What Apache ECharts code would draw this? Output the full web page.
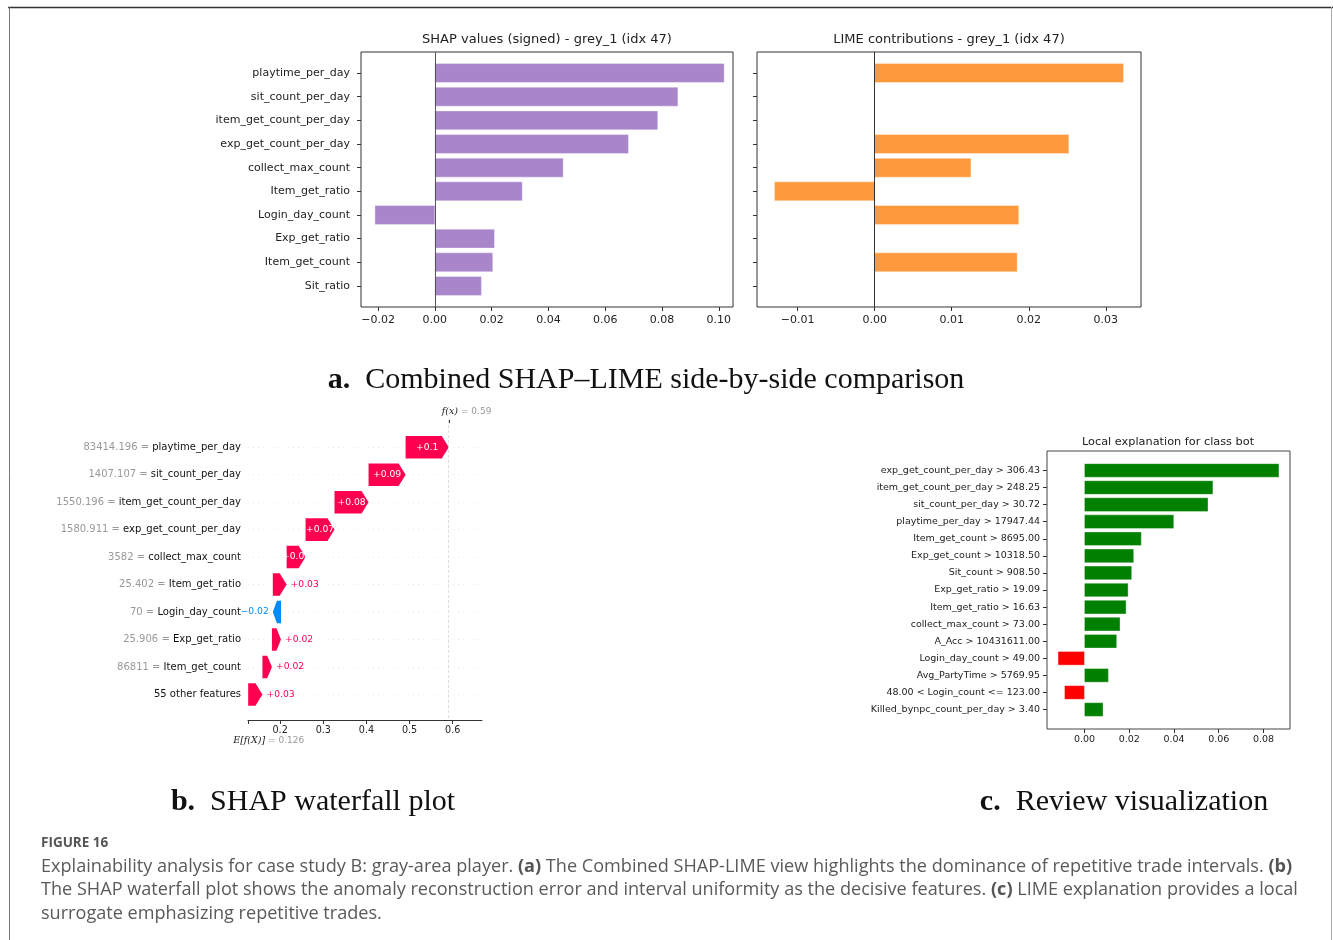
<!DOCTYPE html>
<html><head><meta charset="utf-8">
<script src="https://cdn.jsdelivr.net/npm/echarts@6/dist/echarts.min.js"></script>
<style>html,body{margin:0;padding:0;background:#fff}#c{width:1333px;height:940px}</style>
</head><body><div id="c"></div>
<script>
// ---------- Panel a data ----------
const shapFeatures = ['playtime_per_day','sit_count_per_day','item_get_count_per_day','exp_get_count_per_day','collect_max_count','Item_get_ratio','Login_day_count','Exp_get_ratio','Item_get_count','Sit_ratio'];
const shapValues = [0.1019,0.0856,0.0785,0.0682,0.0452,0.0308,-0.0211,0.0210,0.0204,0.0164];
const limeValues = [0.0323,null,null,0.0252,0.0125,-0.0130,0.0187,null,0.0185,null];
const shapTicks = [-0.02,0,0.02,0.04,0.06,0.08,0.10];
const limeTicks = [-0.01,0,0.01,0.02,0.03];
// ---------- Panel b data ----------
const wfFeatures = ['playtime_per_day','sit_count_per_day','item_get_count_per_day','exp_get_count_per_day','collect_max_count','Item_get_ratio','Login_day_count','Exp_get_ratio','Item_get_count','55 other features'];
const wfFeatureValues = ['83414.196','1407.107','1550.196','1580.911','3582','25.402','70','25.906','86811',''];
const wfValues = [0.100,0.086,0.079,0.067,0.044,0.032,-0.019,0.021,0.022,0.033];
const wfBase = 0.126;
const wfTicks = [0.2,0.3,0.4,0.5,0.6];
// ---------- Panel c data ----------
const cFeatures = ['exp_get_count_per_day > 306.43','item_get_count_per_day > 248.25','sit_count_per_day > 30.72','playtime_per_day > 17947.44','Item_get_count > 8695.00','Exp_get_count > 10318.50','Sit_count > 908.50','Exp_get_ratio > 19.09','Item_get_ratio > 16.63','collect_max_count > 73.00','A_Acc > 10431611.00','Login_day_count > 49.00','Avg_PartyTime > 5769.95','48.00 < Login_count <= 123.00','Killed_bynpc_count_per_day > 3.40'];
const cValues = [0.0869,0.0574,0.0552,0.0399,0.0254,0.0220,0.0211,0.0195,0.0186,0.0159,0.0144,-0.0118,0.0107,-0.0089,0.0083];
const cTicks = [0,0.02,0.04,0.06,0.08];

const FONT = 'DejaVu Sans';
const fmt2 = v => (v < 0 ? '\u2212' : '') + Math.abs(v).toFixed(2);
const idx = arr => arr.map((_, i) => i);
function lims(vals){ const v = vals.filter(x => x != null).concat([0]); const lo = Math.min(...v), hi = Math.max(...v); const m = (hi-lo)*0.05; return [lo-m, hi+m]; }
const shapLim = [-0.026, 0.105], limeLim = lims(limeValues), cLim = lims(cValues);

function barRenderer(frac, colorFn){
  return function(params, api){
    const v = api.value(0), i = api.value(1);
    const p0 = api.coord([0, i]), p1 = api.coord([v, i]);
    const h = api.size([0, frac])[1];
    return {type:'rect', shape:{x:Math.min(p0[0],p1[0]), y:p0[1]-h/2, width:Math.abs(p1[0]-p0[0]), height:h},
      style:{fill:colorFn(v), stroke:'rgba(255,255,255,0.6)', lineWidth:0.6}};
  };
}
const toData = vals => vals.map((v,i) => v == null ? null : [v,i]).filter(d => d);

// waterfall cumulative starts
const wfStarts = []; let acc = wfBase;
for (let i = wfValues.length-1; i >= 0; i--) { wfStarts[i] = acc; acc += wfValues[i]; }
const wfFx = acc;
const wfLabel = v => (v >= 0 ? '+' : '\u2212') + Math.abs(v).toFixed(2).replace(/0$/, '');
const PINK = '#ff0051', BLUE = '#008bfb';

function wfRender(params, api){
  const s = api.value(0), e = api.value(1), i = api.value(2);
  const v = e - s;
  const ps = api.coord([s, i]), pe = api.coord([e, i]);
  const h = api.size([0, 0.82])[1];
  const w = Math.abs(pe[0]-ps[0]);
  const dir = v >= 0 ? 1 : -1;
  const head = Math.min(7, w*0.5);
  const y = ps[1];
  const pts = [[ps[0], y-h/2],[pe[0]-dir*head, y-h/2],[pe[0], y],[pe[0]-dir*head, y+h/2],[ps[0], y+h/2]];
  const col = v >= 0 ? PINK : BLUE;
  const inside = Math.abs(v) >= 0.04;
  const txt = wfLabel(v);
  let text;
  if (inside) text = {type:'text', style:{x:(ps[0]+pe[0])/2, y:y, text:txt, fill:'#fff', align:'center', verticalAlign:'middle', textAlign:'center', textVerticalAlign:'middle', font:'9.2px "DejaVu Sans"'}};
  else text = {type:'text', style:{x:pe[0]+dir*4, y:y, text:txt, fill:col, align:dir>0?'left':'right', textAlign:dir>0?'left':'right', verticalAlign:'middle', textVerticalAlign:'middle', font:'9.2px "DejaVu Sans"'}};
  return {type:'group', children:[{type:'polygon', shape:{points:pts}, style:{fill:col}}, text]};
}

const tickStyle = {lineStyle:{color:'#333', width:1}, length:4};
const noLine = {show:false, onZero:false};
const grids = [
  {left:361, top:52, width:372, height:255, show:true, borderColor:'#333', borderWidth:1},
  {left:757, top:52, width:384, height:255, show:true, borderColor:'#333', borderWidth:1},
  {left:248, top:420, width:234, height:300, show:false},
  {left:1047, top:451, width:243, height:278, show:true, borderColor:'#444', borderWidth:1}
];
const xAxes = [
  {gridIndex:0, type:'value', position:'bottom', min:shapLim[0], max:shapLim[1], axisLine:noLine, splitLine:{show:false},
   axisTick:Object.assign({customValues:shapTicks}, tickStyle), axisLabel:{customValues:shapTicks, formatter:fmt2, color:'#222', fontFamily:FONT, fontSize:11, margin:8}},
  {gridIndex:1, type:'value', position:'bottom', min:limeLim[0], max:limeLim[1], axisLine:noLine, splitLine:{show:false},
   axisTick:Object.assign({customValues:limeTicks}, tickStyle), axisLabel:{customValues:limeTicks, formatter:fmt2, color:'#222', fontFamily:FONT, fontSize:11, margin:8}},
  {gridIndex:2, type:'value', position:'bottom', min:0.1255, max:0.668, axisLine:{show:true, onZero:false, lineStyle:{color:'#333', width:1}}, splitLine:{show:false},
   axisTick:{customValues:[wfBase].concat(wfTicks), length:4, lineStyle:{color:'#333'}}, axisLabel:{customValues:wfTicks, color:'#222', fontFamily:FONT, fontSize:9.6, margin:5}},
  {gridIndex:2, type:'value', position:'top', min:0.1255, max:0.668, axisLine:noLine, splitLine:{show:false},
   axisTick:{customValues:[wfFx], length:3, inside:true, lineStyle:{color:'#333'}}, axisLabel:{show:false}},
  {gridIndex:3, type:'value', position:'bottom', min:cLim[0], max:cLim[1], axisLine:noLine, splitLine:{show:false},
   axisTick:Object.assign({customValues:cTicks}, tickStyle), axisLabel:{customValues:cTicks, formatter:v => v.toFixed(2), color:'#222', fontFamily:FONT, fontSize:9.5, margin:6}}
];
const yAxes = [
  {gridIndex:0, type:'value', position:'left', inverse:true, min:-0.89, max:shapFeatures.length-1+0.89, axisLine:noLine, splitLine:{show:false},
   axisTick:Object.assign({customValues:idx(shapFeatures)}, tickStyle), axisLabel:{customValues:idx(shapFeatures), formatter:v => shapFeatures[v], color:'#222', fontFamily:FONT, fontSize:11, margin:11}},
  {gridIndex:1, type:'value', position:'left', inverse:true, min:-0.89, max:shapFeatures.length-1+0.89, axisLine:noLine, splitLine:{show:false},
   axisTick:Object.assign({customValues:idx(shapFeatures)}, tickStyle), axisLabel:{show:false, customValues:idx(shapFeatures)}},
  {gridIndex:2, type:'value', position:'left', inverse:true, min:-0.99, max:wfFeatures.length-1+0.93, axisLine:noLine,
   splitLine:{show:true, lineStyle:{color:'#dddddd', width:0.6, type:[1,4]}},
   axisTick:{show:false, customValues:idx(wfFeatures)},
   axisLabel:{customValues:idx(wfFeatures), margin:7, fontFamily:FONT, fontSize:10,
     formatter:v => wfFeatureValues[v] ? '{g|' + wfFeatureValues[v] + ' = }{k|' + wfFeatures[v] + '}' : '{k|' + wfFeatures[v] + '}',
     rich:{g:{color:'#999999', fontFamily:FONT, fontSize:10}, k:{color:'#111', fontFamily:FONT, fontSize:10}}}},
  {gridIndex:3, type:'value', position:'left', inverse:true, min:-1.14, max:cFeatures.length-1+1.14, axisLine:noLine, splitLine:{show:false},
   axisTick:Object.assign({customValues:idx(cFeatures)}, tickStyle), axisLabel:{customValues:idx(cFeatures), formatter:v => cFeatures[v], color:'#222', fontFamily:FONT, fontSize:9.5, margin:7}}
];
const zeroLine = color => ({silent:true, symbol:['none','none'], label:{show:false}, lineStyle:{color:color, width:1, type:'solid'}, data:[{xAxis:0}]});

const series = [
  {type:'custom', xAxisIndex:0, yAxisIndex:0, renderItem:barRenderer(0.8, () => '#a985ca'), data:toData(shapValues), encode:{x:0,y:1}, markLine:zeroLine('#555'), z:2},
  {type:'custom', xAxisIndex:1, yAxisIndex:1, renderItem:barRenderer(0.8, () => '#ff993e'), data:toData(limeValues), encode:{x:0,y:1}, markLine:zeroLine('#333'), z:2},
  {type:'custom', xAxisIndex:2, yAxisIndex:2, renderItem:wfRender, data:wfValues.map((v,i) => [wfStarts[i], wfStarts[i]+v, i]), encode:{x:[0,1], y:2},
   markLine:{silent:true, symbol:['none','none'], label:{show:false}, lineStyle:{color:'#d5d5d5', width:0.8, type:[3,2]}, data:[{xAxis:wfFx}]}, z:2},
  {type:'custom', xAxisIndex:4, yAxisIndex:3, renderItem:barRenderer(0.8, v => v >= 0 ? '#008000' : '#ff0000'), data:toData(cValues), encode:{x:0,y:1}, z:2}
];

const serifFam = '"Liberation Serif", "Times New Roman", serif';
const capFam = '"Open Sans", "Noto Sans", sans-serif';
const CAP = 18.1;
function txt(x, y, text, opts){
  return {type:'text', silent:true, style:Object.assign({x:x, y:y, text:text, fill:'#222', align:'center', textAlign:'center', verticalAlign:'middle', textVerticalAlign:'middle', font:'13px "DejaVu Sans"'}, opts||{})};
}
const serifRich = {b:{fontWeight:'bold', fontSize:30, fontFamily:serifFam, fill:'#111'}, r:{fontSize:30, fontFamily:serifFam, fill:'#111'}};
const capRich = {b:{fontWeight:'bold', fontSize:CAP, fontFamily:capFam, fill:'#555'}, r:{fontSize:CAP, fontFamily:capFam, fill:'#5a5a5a'}};
const graphics = [
  {type:'line', silent:true, shape:{x1:8, y1:7.5, x2:1333, y2:7.5}, style:{stroke:'#333', lineWidth:1.5}},
  {type:'line', silent:true, shape:{x1:9.5, y1:7, x2:9.5, y2:940}, style:{stroke:'#777', lineWidth:1}},
  {type:'line', silent:true, shape:{x1:1331.5, y1:7, x2:1331.5, y2:940}, style:{stroke:'#aaa', lineWidth:1}},
  txt(547, 40, 'SHAP values (signed) - grey_1 (idx 47)'),
  txt(949, 40, 'LIME contributions - grey_1 (idx 47)'),
  txt(1168, 442, 'Local explanation for class bot', {font:'11.3px "DejaVu Sans"'}),
  txt(646, 380, '{b|a.}{r|  Combined SHAP\u2013LIME side-by-side comparison}', {font:'30px ' + serifFam, fill:'#111', rich:serifRich}),
  txt(313, 802, '{b|b.}{r|  SHAP waterfall plot}', {font:'30px ' + serifFam, fill:'#111', rich:serifRich}),
  txt(1124, 802, '{b|c.}{r|  Review visualization}', {font:'30px ' + serifFam, fill:'#111', rich:serifRich}),
  txt(41, 843, 'FIGURE 16', {align:'left', textAlign:'left', fill:'#555', font:'bold 13.5px ' + capFam}),
  txt(41, 867, '{r|Explainability analysis for case study B: gray-area player. }{b|(a)}{r| The Combined SHAP-LIME view highlights the dominance of repetitive trade intervals. }{b|(b)}', {align:'left', textAlign:'left', fill:'#5a5a5a', font:CAP + 'px ' + capFam, rich:capRich}),
  txt(41, 890, '{r|The SHAP waterfall plot shows the anomaly reconstruction error and interval uniformity as the decisive features. }{b|(c)}{r| LIME explanation provides a local}', {align:'left', textAlign:'left', fill:'#5a5a5a', font:CAP + 'px ' + capFam, rich:capRich}),
  txt(41, 914, 'surrogate emphasizing repetitive trades.', {align:'left', textAlign:'left', fill:'#5a5a5a', font:CAP + 'px ' + capFam})
];

const chart = echarts.init(document.getElementById('c'), null, {renderer:'canvas'});
chart.setOption({animation:false, backgroundColor:'#fff', grid:grids, xAxis:xAxes, yAxis:yAxes, series:series, graphic:graphics});

// f(x) and E[f(X)] labels positioned through the waterfall axis scale
const fxPx = chart.convertToPixel({xAxisIndex:2}, wfFx);
const basePx = chart.convertToPixel({xAxisIndex:2}, wfBase);
const extra = graphics.concat([
  txt(fxPx - 7, 411.5, '{i|f(x)}{g| = ' + wfFx.toFixed(2) + '}', {align:'left', textAlign:'left', font:'9px "DejaVu Sans"', rich:{i:{fontStyle:'italic', fontSize:9.5, fontFamily:'DejaVu Serif', fill:'#222'}, g:{fontSize:9, fontFamily:FONT, fill:'#999'}}}),
  txt(basePx - 15, 741, '{i|E[f(X)]}{g| = ' + wfBase.toFixed(3) + '}', {align:'left', textAlign:'left', font:'9px "DejaVu Sans"', rich:{i:{fontStyle:'italic', fontSize:9.5, fontFamily:'DejaVu Serif', fill:'#222'}, g:{fontSize:9, fontFamily:FONT, fill:'#999'}}})
]);
chart.setOption({graphic:extra}, {replaceMerge:['graphic']});
</script></body></html>
